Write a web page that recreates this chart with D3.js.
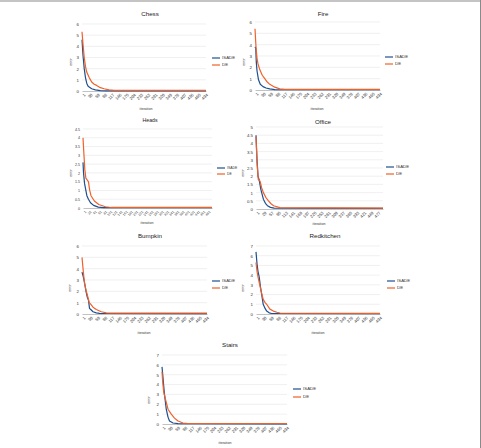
<!DOCTYPE html>
<html>
<head>
<meta charset="utf-8">
<script src="https://cdn.jsdelivr.net/npm/d3@7"></script>
<style>
  body { margin: 0; background: #fff; }
  svg { display: block; font-family: "Liberation Sans", Arial, sans-serif; }
</style>
</head>
<body>
<div id="chart"></div>
<script>
"use strict";

// chart data: [iteration, error]
const panelNames = ["Chess", "Fire", "Heads", "Office", "Bumpkin", "Redkitchen", "Stairs"];
const seriesNames = ["ISADE", "DE"];
const iterCount = 500;
const yMax = [6, 6, 4.5, 5, 6, 7, 7];
const yStep = [1, 1, 0.5, 0.5, 1, 1, 1];
const xLabelStep = [29, 29, 20, 28, 29, 29, 29];

const chessIsade = [[1,4.6],[5,3.2],[10,2.0],[15,1.2],[20,0.7],[25,0.45],[30,0.35],[40,0.2],[55,0.1],[75,0.04],[100,0.02],[500,0.02]];
const chessDe = [[1,5.3],[5,4.2],[10,3.0],[15,2.2],[20,1.7],[30,1.2],[40,0.8],[50,0.6],[60,0.5],[75,0.3],[90,0.2],[110,0.1],[130,0.06],[500,0.05]];

const fireIsade = [[1,3.8],[4,3.7],[6,2.5],[9,1.7],[15,0.9],[22,0.5],[33,0.3],[45,0.18],[60,0.1],[80,0.03],[500,0.02]];
const fireDe = [[1,5.4],[5,3.8],[9,2.8],[13,2.3],[20,1.8],[30,1.3],[40,1.0],[50,0.7],[60,0.5],[80,0.25],[100,0.1],[120,0.06],[500,0.05]];

const headsIsade = [[1,2.6],[3,2.0],[7,1.4],[12,1.0],[16,0.7],[22,0.5],[30,0.3],[42,0.15],[60,0.05],[80,0.02],[500,0.02]];
const headsDe = [[1,4.0],[4,3.2],[8,2.2],[12,1.7],[22,1.5],[27,1.0],[32,0.7],[45,0.4],[62,0.2],[88,0.07],[110,0.03],[500,0.03]];

const officeIsade = [[1,4.5],[5,3.0],[9,2.0],[13,1.8],[20,1.2],[30,0.6],[38,0.35],[46,0.2],[58,0.1],[72,0.05],[500,0.04]];
const officeDe = [[1,4.4],[5,2.8],[10,1.8],[17,1.7],[23,1.3],[30,1.0],[40,0.7],[50,0.5],[60,0.32],[70,0.2],[95,0.08],[500,0.05]];

const bumpkinIsade = [[1,3.7],[6,3.3],[11,2.8],[17,2.0],[22,1.5],[27,1.2],[31,0.5],[38,0.35],[45,0.2],[58,0.1],[71,0.05],[500,0.04]];
const bumpkinDe = [[1,5.0],[6,3.8],[11,2.7],[17,2.1],[22,1.7],[30,1.0],[38,0.8],[45,0.6],[58,0.4],[78,0.2],[98,0.1],[120,0.08],[500,0.08]];

const redkitchenIsade = [[1,6.4],[5,5.2],[9,4.4],[14,3.8],[19,2.8],[24,2.0],[30,1.0],[37,0.6],[44,0.3],[54,0.12],[64,0.05],[500,0.03]];
const redkitchenDe = [[1,5.3],[5,4.4],[10,3.7],[16,3.0],[22,2.3],[30,1.5],[37,1.2],[44,1.0],[57,0.5],[71,0.3],[85,0.18],[98,0.1],[500,0.07]];

const stairsIsade = [[1,5.8],[4,5.0],[8,3.8],[11,3.0],[18,1.5],[25,0.7],[31,0.3],[38,0.2],[45,0.1],[65,0.03],[500,0.02]];
const stairsDe = [[1,5.3],[4,4.2],[8,3.2],[15,2.5],[25,1.5],[38,1.0],[51,0.6],[65,0.3],[85,0.1],[100,0.06],[500,0.05]];

const panelSeries = [
    [chessIsade, chessDe],
    [fireIsade, fireDe],
    [headsIsade, headsDe],
    [officeIsade, officeDe],
    [bumpkinIsade, bumpkinDe],
    [redkitchenIsade, redkitchenDe],
    [stairsIsade, stairsDe]
];

// layout of each small chart (pixels)
const layout = [
    {left: 82,  right: 206, top: 24,  bottom: 91,  titleX: 150, titleY: 14,  legX: 212, legY: [58, 65],   errX: 71,  errY: 62,  iterX: 146, iterY: 109, small: false},
    {left: 255, right: 380, top: 22,  bottom: 90,  titleX: 323, titleY: 14,  legX: 385, legY: [57, 64],   errX: 244, errY: 62,  iterX: 317, iterY: 109, small: false},
    {left: 83,  right: 212, top: 129, bottom: 208, titleX: 150, titleY: 121, legX: 217, legY: [168, 174], errX: 71,  errY: 173, iterX: 147, iterY: 223, small: true},
    {left: 256, right: 383, top: 127, bottom: 209, titleX: 323, titleY: 122, legX: 386, legY: [167, 174], errX: 243, errY: 173, iterX: 319, iterY: 224, small: false},
    {left: 82,  right: 207, top: 246, bottom: 314, titleX: 150, titleY: 236, legX: 212, legY: [281, 288], errX: 70,  errY: 288, iterX: 144, iterY: 333, small: false},
    {left: 256, right: 380, top: 246, bottom: 314, titleX: 325, titleY: 236, legX: 387, legY: [281, 288], errX: 243, errY: 288, iterX: 318, iterY: 333, small: false},
    {left: 162, right: 287, top: 355, bottom: 424, titleX: 230, titleY: 345, legX: 293, legY: [389, 397], errX: 149, errY: 400, iterX: 225, iterY: 443, small: false}
];

const colors = ["#1f4f8f", "#f0602a"];

function init() {
    draw();
}
window.onload = init;

function draw() {
    const width = 481, height = 448;

    const svg = d3.select("#chart")
        .append("svg")
        .attr("width", width)
        .attr("height", height);

    // frame edges visible in the picture
    svg.append("line")
        .attr("x1", 0).attr("x2", width).attr("y1", 1).attr("y2", 1)
        .attr("stroke", "#8a8a8a").attr("stroke-width", 1.2);
    svg.append("line")
        .attr("x1", width - 0.5).attr("x2", width - 0.5).attr("y1", 0).attr("y2", height)
        .attr("stroke", "#8a8a8a").attr("stroke-width", 1);

    panelNames.forEach(function(name, i) {
        const L = layout[i];
        const g = svg.append("g");

        const x = d3.scaleLinear()
            .domain([1, iterCount])
            .range([L.left, L.right]);
        const y = d3.scaleLinear()
            .domain([0, yMax[i]])
            .range([L.bottom, L.top]);

        const yTicks = d3.range(0, yMax[i] + yStep[i] / 2, yStep[i]);
        const xTicks = d3.range(1, iterCount, xLabelStep[i]);

        // gridlines
        g.selectAll(".grid")
            .data(yTicks.slice(1))
            .enter().append("line")
            .attr("x1", L.left).attr("x2", L.right)
            .attr("y1", d => y(d)).attr("y2", d => y(d))
            .attr("stroke", "#e6e6e6").attr("stroke-width", 0.6);

        // y axis
        const yAxis = g.append("g")
            .attr("transform", `translate(${L.left}, 0)`)
            .call(d3.axisLeft(y).tickValues(yTicks).tickSize(0).tickPadding(3)
                .tickFormat(d3.format("~g")));
        yAxis.select(".domain").remove();
        yAxis.selectAll("text")
            .attr("font-size", L.small ? 3.6 : 4.4)
            .attr("fill", "#333");

        // x axis
        const xAxis = g.append("g")
            .attr("transform", `translate(0, ${L.bottom})`)
            .call(d3.axisBottom(x).tickValues(xTicks).tickSize(0).tickPadding(2));
        xAxis.select(".domain")
            .attr("stroke", "#b3b3b3").attr("stroke-width", 0.8);
        xAxis.selectAll("text")
            .attr("font-size", L.small ? 3.4 : 4.2)
            .attr("fill", "#333")
            .style("text-anchor", "end")
            .attr("dy", "0.3em")
            .attr("transform", "translate(1,2) rotate(-45)");

        // lines
        const line = d3.line()
            .x(d => x(d[0]))
            .y(d => y(d[1]));
        panelSeries[i].forEach(function(s, k) {
            g.append("path")
                .datum(s)
                .attr("fill", "none")
                .attr("stroke", colors[k])
                .attr("stroke-width", 1.2)
                .attr("stroke-linejoin", "round")
                .attr("d", line);
        });

        // title
        g.append("text")
            .attr("x", L.titleX).attr("y", L.titleY)
            .attr("text-anchor", "middle")
            .attr("dominant-baseline", "middle")
            .attr("font-size", L.small ? 5.2 : 6.2)
            .attr("fill", "#222")
            .text(name);

        // axis titles
        g.append("text")
            .attr("transform", `translate(${L.errX}, ${L.errY}) rotate(-90)`)
            .attr("text-anchor", "middle")
            .attr("dominant-baseline", "middle")
            .attr("font-size", 3.6)
            .attr("fill", "#333")
            .text("error");
        g.append("text")
            .attr("x", L.iterX).attr("y", L.iterY)
            .attr("text-anchor", "middle")
            .attr("dominant-baseline", "middle")
            .attr("font-size", 3.6)
            .attr("fill", "#333")
            .text("iteration");

        // legend
        seriesNames.forEach(function(sn, k) {
            g.append("line")
                .attr("x1", L.legX).attr("x2", L.legX + 8)
                .attr("y1", L.legY[k]).attr("y2", L.legY[k])
                .attr("stroke", colors[k]).attr("stroke-width", 1.2);
            g.append("text")
                .attr("x", L.legX + 10).attr("y", L.legY[k])
                .attr("dominant-baseline", "middle")
                .attr("font-size", L.small ? 3.4 : 4.4)
                .attr("fill", "#333")
                .text(sn);
        });
    });
}
</script>
</body>
</html>
